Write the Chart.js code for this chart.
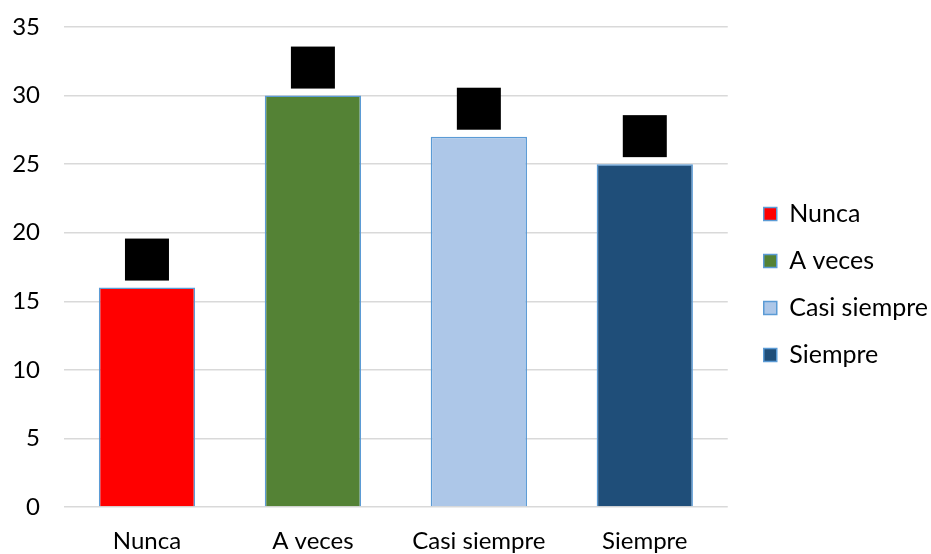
<!DOCTYPE html>
<html>
<head>
<meta charset="utf-8">
<script src="https://cdn.jsdelivr.net/npm/chart.js@4"></script>
<style>
  html, body { margin: 0; padding: 0; background: #fff; }
  #wrap { width: 931px; height: 554px; }
</style>
</head>
<body>
<div id="wrap"><canvas id="respuestasChart"></canvas></div>
<script>
// Datos del gráfico
const categorias = ['Nunca', 'A veces', 'Casi siempre', 'Siempre'];
const valores = [16, 30, 27, 25];
const colores = ['#FF0000', '#548235', '#ADC7E8', '#1F4E79'];
const ticksY = [0, 5, 10, 15, 20, 25, 30, 35];

// Cajas negras que tapan las etiquetas de datos
const tapaEtiquetas = {
    id: 'tapaEtiquetas',
    afterDatasetsDraw(chart) {
        const ctx = chart.ctx;
        ctx.save();
        ctx.fillStyle = '#000';
        chart.getDatasetMeta(0).data.forEach(bar => {
            ctx.fillRect(bar.x - 22, bar.y - 49, 44, 42);
        });
        ctx.restore();
    }
};

// Separa un poco la leyenda del área del gráfico
const moverLeyenda = {
    id: 'moverLeyenda',
    afterLayout(chart) {
        const lg = chart.legend;
        lg.left += 14;
        lg.right += 14;
        lg.top -= 6;
        lg.bottom -= 6;
    }
};

function renderChart() {
    const ctx = document.getElementById('respuestasChart').getContext('2d');
    new Chart(ctx, {
        type: 'bar',
        data: {
            labels: categorias,
            datasets: [{
                data: valores,
                backgroundColor: colores,
                borderColor: '#5B9BD5',
                borderWidth: 1.5,
                categoryPercentage: 1,
                barPercentage: 0.58
            }]
        },
        options: {
            responsive: true,
            maintainAspectRatio: false,
            animation: false,
            layout: { padding: { top: 27, left: 10, right: 7, bottom: 0 } },
            scales: {
                y: {
                    min: 0,
                    max: 35,
                    afterBuildTicks: axis => { axis.ticks = ticksY.map(v => ({ value: v })); },
                    afterFit: axis => {
                        axis.width = 54;
                        axis.paddingTop = 0;
                        axis.paddingBottom = 0;
                    },
                    border: { display: false },
                    grid: { color: '#D9D9D9', lineWidth: 1.5, drawTicks: false },
                    ticks: { padding: 24, color: '#000', font: { family: 'Lato', size: 24 } }
                },
                x: {
                    afterFit: axis => { axis.height = 47; },
                    border: { display: false },
                    grid: { display: false },
                    ticks: { padding: 12, color: '#000', font: { family: 'Lato', size: 24 } }
                }
            },
            plugins: {
                tooltip: { enabled: false },
                legend: {
                    position: 'right',
                    labels: {
                        boxWidth: 13,
                        boxHeight: 13,
                        padding: 22,
                        color: '#000',
                        font: { family: 'Lato', size: 25 },
                        generateLabels: chart => categorias.map((c, i) => ({
                            text: c,
                            fillStyle: colores[i],
                            strokeStyle: '#5B9BD5',
                            lineWidth: 1.5,
                            index: i
                        }))
                    }
                }
            }
        },
        plugins: [tapaEtiquetas, moverLeyenda]
    });
}

document.addEventListener('DOMContentLoaded', renderChart);
</script>
</body>
</html>
